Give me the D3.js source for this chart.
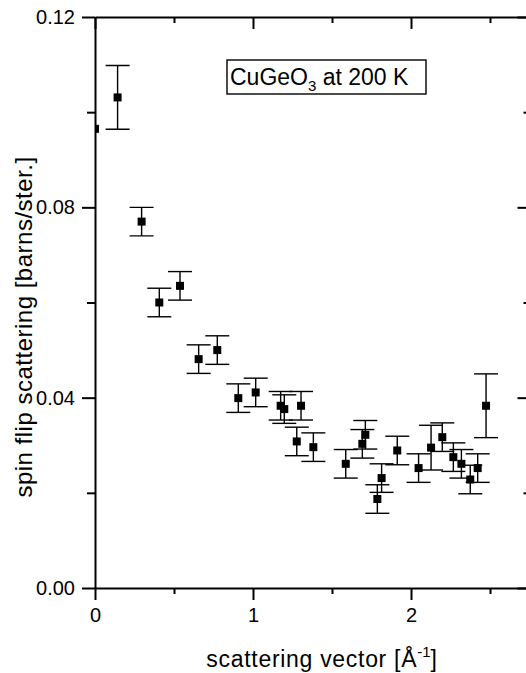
<!DOCTYPE html>
<html>
<head>
<meta charset="utf-8">
<script src="https://cdn.jsdelivr.net/npm/d3@7"></script>
<style>
  html, body { margin: 0; padding: 0; background: #fff; }
  svg { display: block; }
  text { font-family: "Liberation Sans", Arial, sans-serif; fill: #000; }
</style>
</head>
<body>
<script>
// ---- data ----
const qValues = [0.0, 0.143, 0.295, 0.407, 0.538, 0.656, 0.774, 0.907, 1.017, 1.175, 1.198, 1.304, 1.277, 1.382, 1.587, 1.692, 1.711, 1.787, 1.814, 1.913, 2.048, 2.127, 2.198, 2.268, 2.319, 2.375, 2.422, 2.475];
const sfValues = [0.0965, 0.1031, 0.0770, 0.0600, 0.0635, 0.0481, 0.0500, 0.0399, 0.0411, 0.0383, 0.0376, 0.0383, 0.0308, 0.0296, 0.0261, 0.0303, 0.0322, 0.0187, 0.0231, 0.0289, 0.0252, 0.0295, 0.0317, 0.0275, 0.0261, 0.0228, 0.0252, 0.0383];
const sfErrors = [0, 0.0067, 0.003, 0.003, 0.003, 0.003, 0.003, 0.003, 0.003, 0.003, 0.003, 0.003, 0.003, 0.003, 0.003, 0.003, 0.003, 0.003, 0.003, 0.003, 0.003, 0.0047, 0.003, 0.003, 0.003, 0.003, 0.003, 0.0067];
const xMajorTicks = [0, 1, 2];
const xMinorTicks = [0.5, 1.5, 2.5];
const yMajorTicks = [0.00, 0.04, 0.08, 0.12];
const yMinorTicks = [0.02, 0.06, 0.10];
const xTitle = "scattering vector [Å";
const yTitle = "spin flip scattering [barns/ster.]";

const W = 526, H = 673;
const mLeft = 95, mTop = 17, mBottom = 588;
const x = d3.scaleLinear().domain([0, 2.75]).range([mLeft, mLeft + 2.75 * 158]);
const y = d3.scaleLinear().domain([0, 0.12]).range([mBottom, mTop]);
const mRight = x(2.75);

const svg = d3.select("body").append("svg").attr("width", W).attr("height", H);

svg.append("defs").append("clipPath").attr("id", "plotclip")
  .append("rect").attr("x", mLeft).attr("y", mTop).attr("width", mRight - mLeft).attr("height", mBottom - mTop);

function styleAxis(g) {
  g.selectAll("path").attr("stroke", "#000").attr("stroke-width", 2);
  g.selectAll("line").attr("stroke", "#000").attr("stroke-width", 2);
  g.selectAll("text").style("font-family", "'Liberation Sans', Arial, sans-serif").style("font-size", "20px").attr("fill", "#000");
}

// bottom
svg.append("g").attr("transform", `translate(0,${mBottom})`)
  .call(d3.axisBottom(x).tickValues(xMajorTicks).tickFormat(d3.format("d")).tickSizeInner(12).tickSizeOuter(0).tickPadding(8))
  .call(styleAxis);
svg.append("g").attr("transform", `translate(0,${mBottom})`)
  .call(d3.axisBottom(x).tickValues(xMinorTicks).tickFormat("").tickSizeInner(6).tickSizeOuter(0))
  .call(styleAxis).call(g => g.select("path").remove());
// top
svg.append("g").attr("transform", `translate(0,${mTop})`)
  .call(d3.axisTop(x).tickValues(xMajorTicks).tickFormat("").tickSizeInner(-12).tickSizeOuter(0))
  .call(styleAxis);
svg.append("g").attr("transform", `translate(0,${mTop})`)
  .call(d3.axisTop(x).tickValues(xMinorTicks).tickFormat("").tickSizeInner(-6).tickSizeOuter(0))
  .call(styleAxis).call(g => g.select("path").remove());
// left
svg.append("g").attr("transform", `translate(${mLeft},0)`)
  .call(d3.axisLeft(y).tickValues(yMajorTicks).tickFormat(d3.format(".2f")).tickSizeInner(13).tickSizeOuter(0).tickPadding(7))
  .call(styleAxis);
svg.append("g").attr("transform", `translate(${mLeft},0)`)
  .call(d3.axisLeft(y).tickValues(yMinorTicks).tickFormat("").tickSizeInner(8).tickSizeOuter(0))
  .call(styleAxis).call(g => g.select("path").remove());
// right
svg.append("g").attr("transform", `translate(${mRight},0)`)
  .call(d3.axisRight(y).tickValues(yMajorTicks).tickFormat("").tickSizeInner(-12).tickSizeOuter(0))
  .call(styleAxis);
svg.append("g").attr("transform", `translate(${mRight},0)`)
  .call(d3.axisRight(y).tickValues(yMinorTicks).tickFormat("").tickSizeInner(-6).tickSizeOuter(0))
  .call(styleAxis).call(g => g.select("path").remove());

// data
const pts = qValues.map((q, i) => ({ q, v: sfValues[i], e: sfErrors[i] }));
const plot = svg.append("g").attr("clip-path", "url(#plotclip)");
const capW = 12;
const eb = plot.selectAll("g.eb").data(pts.filter(d => d.e > 0)).join("g")
  .attr("stroke", "#000").attr("stroke-width", 1.4).attr("fill", "none");
eb.append("line").attr("x1", d => x(d.q)).attr("x2", d => x(d.q)).attr("y1", d => y(d.v + d.e)).attr("y2", d => y(d.v - d.e));
eb.append("line").attr("x1", d => x(d.q) - capW).attr("x2", d => x(d.q) + capW).attr("y1", d => y(d.v + d.e)).attr("y2", d => y(d.v + d.e));
eb.append("line").attr("x1", d => x(d.q) - capW).attr("x2", d => x(d.q) + capW).attr("y1", d => y(d.v - d.e)).attr("y2", d => y(d.v - d.e));
const ms = 8;
plot.selectAll("rect.pt").data(pts).join("rect")
  .attr("x", d => x(d.q) - ms / 2).attr("y", d => y(d.v) - ms / 2)
  .attr("width", ms).attr("height", ms).attr("fill", "#000");

// annotation box
const ann = svg.append("g");
ann.append("rect").attr("x", 227).attr("y", 60).attr("width", 199).attr("height", 34)
  .attr("fill", "#fff").attr("stroke", "#000").attr("stroke-width", 1.4);
const at = ann.append("text").attr("x", 230).attr("y", 85).style("font-size", "23px");
at.append("tspan").text("CuGeO");
at.append("tspan").attr("dy", 6).style("font-size", "15px").text("3");
at.append("tspan").attr("dy", -6).text(" at 200 K");

// axis titles
const xt = svg.append("text").attr("x", 322).attr("y", 667).attr("text-anchor", "middle")
  .style("font-size", "23px").style("letter-spacing", "0.7px");
xt.append("tspan").text(xTitle);
xt.append("tspan").attr("dy", -10).style("font-size", "15px").style("letter-spacing", "0px").text("-1");
xt.append("tspan").attr("dy", 10).text("]");

svg.append("text").attr("transform", `translate(32,327) rotate(-90)`).attr("text-anchor", "middle")
  .style("font-size", "24px").style("letter-spacing", "0.5px").text(yTitle);
</script>
</body>
</html>
